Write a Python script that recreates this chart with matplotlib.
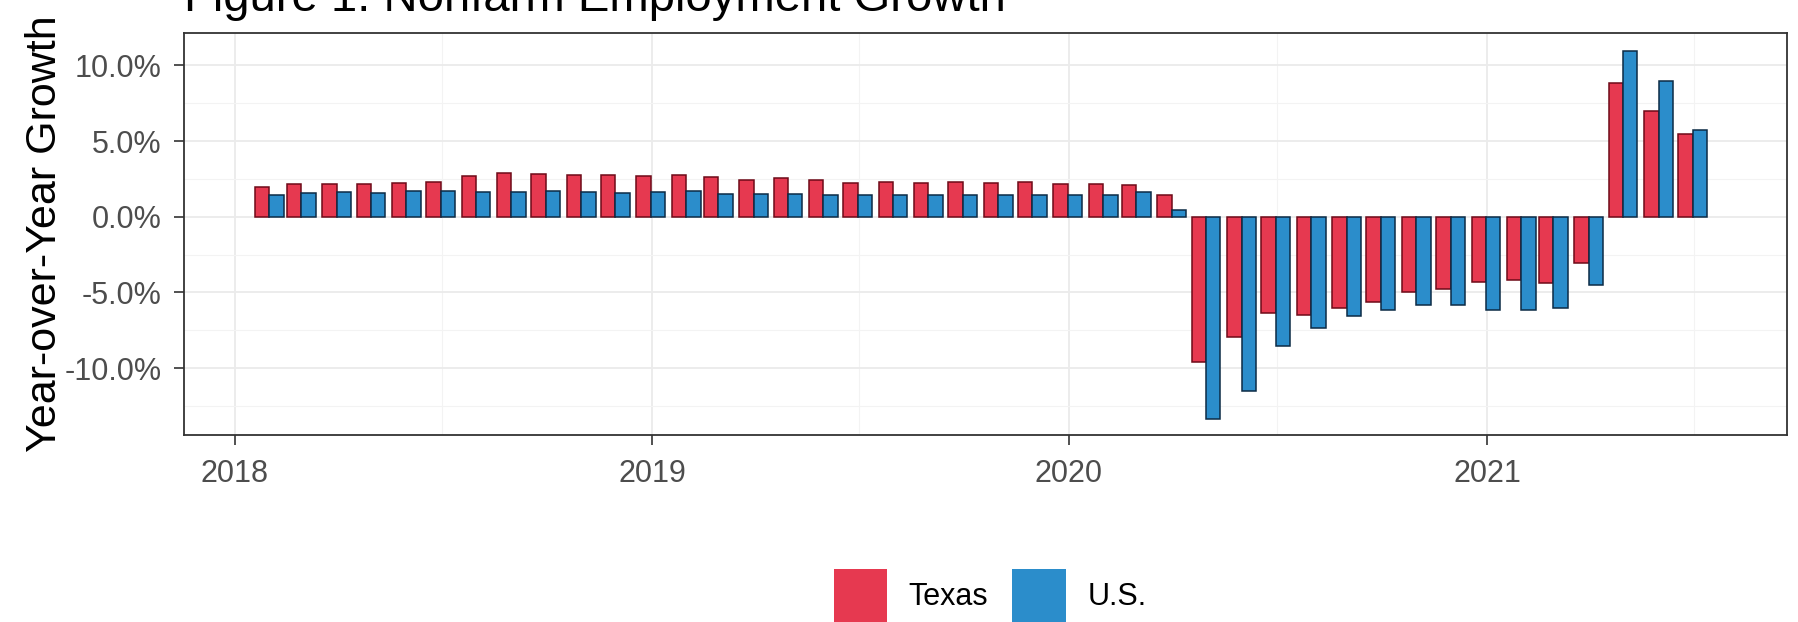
import matplotlib
matplotlib.use("Agg")
import matplotlib.pyplot as plt
import matplotlib.dates as mdates
from matplotlib.patches import Patch
from matplotlib.ticker import FixedLocator, FuncFormatter
import pandas as pd
import numpy as np

plt.rcParams['font.family'] = ['Liberation Sans', 'DejaVu Sans']

# ---- data (year-over-year growth, %) ----
months = pd.date_range("2018-01-31", periods=42, freq="ME")
texas = [1.98, 2.16, 2.16, 2.16, 2.25, 2.31, 2.69, 2.87, 2.80, 2.76, 2.76, 2.69,
         2.76, 2.64, 2.43, 2.54, 2.43, 2.25, 2.31, 2.25, 2.31, 2.25, 2.31, 2.16,
         2.16, 2.10, 1.43, -9.63, -7.97, -6.39, -6.50, -6.06, -5.62, -5.00, -4.78, -4.30,
         -4.18, -4.36, -3.08, 8.84, 7.00, 5.44]
us = [1.43, 1.59, 1.65, 1.59, 1.72, 1.72, 1.65, 1.65, 1.72, 1.65, 1.59, 1.65,
      1.70, 1.50, 1.50, 1.50, 1.41, 1.41, 1.41, 1.41, 1.41, 1.41, 1.41, 1.41,
      1.41, 1.60, 0.44, -13.39, -11.50, -8.55, -7.38, -6.54, -6.17, -5.84, -5.84, -6.17,
      -6.17, -6.06, -4.51, 10.93, 9.00, 5.75]
series_names = ["Texas", "U.S."]
year_ticks = ["2018", "2019", "2020", "2021"]
y_ticks = [-10, -5, 0, 5, 10]

fill_colors = ["#E63950", "#2B8DCB"]
edge_colors = ["#6E0A18", "#0C2B45"]

W, H = 1799, 622
fig = plt.figure(figsize=(W / 100, H / 100), dpi=100)
ax = fig.add_axes([184 / W, 1 - 435 / H, (1787 - 184) / W, (435 - 33) / H])

x = mdates.date2num(months.to_pydatetime())
bw = 12.6  # days per bar (dodged)
ax.bar(x - bw / 2, texas, width=bw, color=fill_colors[0], edgecolor=edge_colors[0],
       linewidth=1.1, zorder=3)
ax.bar(x + bw / 2, us, width=bw, color=fill_colors[1], edgecolor=edge_colors[1],
       linewidth=1.1, zorder=3)

# axes limits
x0 = mdates.date2num(pd.Timestamp("2018-01-01"))
px_per_day = 417 / 365.0
ax.set_xlim(x0 - (235 - 184) / px_per_day, x0 + (1787 - 235) / px_per_day)
ax.set_ylim((216.7 - 435) / 15.13, (216.7 - 33) / 15.13)

# ticks
year_pos = [mdates.date2num(pd.Timestamp(f"{y}-01-01")) for y in year_ticks]
ax.set_xticks(year_pos)
ax.set_xticklabels(year_ticks)
mid_pos = [mdates.date2num(pd.Timestamp(f"{y}-07-01")) for y in ["2017", "2018", "2019", "2020", "2021"]]
ax.xaxis.set_minor_locator(FixedLocator(mid_pos))
ax.set_yticks(y_ticks)
ax.yaxis.set_major_formatter(FuncFormatter(lambda v, p: f"{v:.1f}%"))
ax.yaxis.set_minor_locator(FixedLocator([-12.5, -7.5, -2.5, 2.5, 7.5]))

ax.tick_params(axis="both", which="major", length=7, width=1.2, color="#333333",
               labelsize=22, labelcolor="#4D4D4D")
ax.tick_params(axis="x", which="major", pad=10)
ax.tick_params(axis="y", which="major", pad=9)
ax.tick_params(axis="both", which="minor", length=0)

ax.grid(True, which="major", color="#EBEBEB", linewidth=1.3, zorder=0)
ax.grid(True, which="minor", color="#F3F3F3", linewidth=0.8, zorder=0)
ax.set_axisbelow(True)
for s in ax.spines.values():
    s.set_color("#333333")
    s.set_linewidth(1.3)

ax.set_ylabel("Year-over-Year Growth", fontsize=31, color="black")
ax.yaxis.set_label_coords(-0.074, 0.5)

fig.text(184 / W, 1 - 11 / H, "Figure 1: Nonfarm Employment Growth", fontsize=34,
         ha="left", va="baseline", color="black")

handles = [Patch(facecolor=fill_colors[0], edgecolor="none"),
           Patch(facecolor=fill_colors[1], edgecolor="none")]
fig.legend(handles, series_names, loc="center", bbox_to_anchor=(990 / W, 1 - 596 / H),
           ncol=2, frameon=False, fontsize=22, handlelength=1.75, handleheight=2.3,
           handletextpad=0.7, columnspacing=0.8, borderpad=0)

fig.savefig("out.png", dpi=100)
